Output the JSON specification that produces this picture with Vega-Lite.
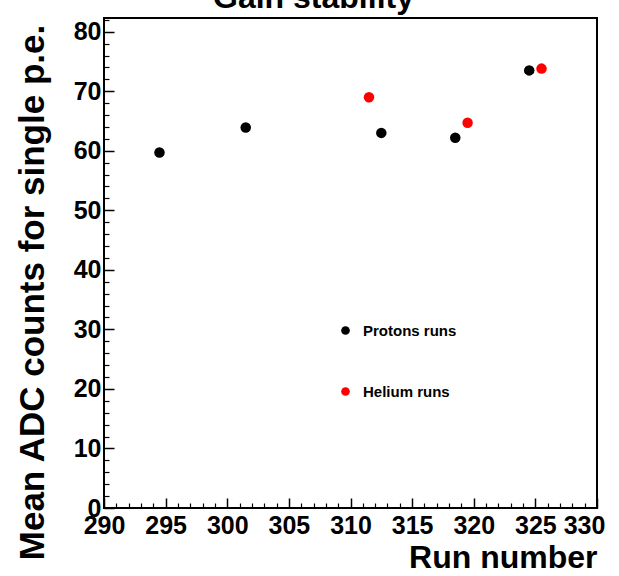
{
  "$schema": "https://vega.github.io/schema/vega-lite/v6.json",
  "autosize": "none",
  "width": 493,
  "height": 490,
  "padding": {"left": 104, "top": 18, "right": 22, "bottom": 68},
  "background": "white",
  "title": {"text": "Gain stability", "fontSize": 32, "fontWeight": "bold", "font": "Liberation Sans", "color": "black", "baseline": "alphabetic", "offset": 4, "dy": 26, "dx": -37, "anchor": "middle"},
  "config": {
    "view": {"stroke": "black", "strokeWidth": 2},
    "font": "Liberation Sans"
  },
  "data": {"values": [
    {"run": 294.5, "adc": 59.7, "type": "Protons runs"},
    {"run": 301.5, "adc": 63.9, "type": "Protons runs"},
    {"run": 312.5, "adc": 63.0, "type": "Protons runs"},
    {"run": 318.5, "adc": 62.2, "type": "Protons runs"},
    {"run": 324.5, "adc": 73.5, "type": "Protons runs"},
    {"run": 311.5, "adc": 69.0, "type": "Helium runs"},
    {"run": 319.5, "adc": 64.7, "type": "Helium runs"},
    {"run": 325.5, "adc": 73.8, "type": "Helium runs"}
  ]},
  "resolve": {"axis": {"x": "independent", "y": "independent"}},
  "layer": [
    {
      "mark": {"type": "point", "filled": true, "opacity": 1, "size": 110},
      "encoding": {
        "x": {"field": "run", "type": "quantitative", "scale": {"domain": [290, 330], "nice": false, "zero": false},
          "axis": {"orient": "bottom", "values": [290, 295, 300, 305, 310, 315, 320, 325, 330], "tickSize": -10, "tickColor": "black", "tickWidth": 1.5, "labelPadding": 15, "domain": false, "grid": false,
            "labelOverlap": false, "labelFlush": false, "labelBound": false,
            "labelOffset": {"condition": {"test": "datum.value == 330", "value": -13}, "value": 0},
            "labelFontSize": 25, "labelFontWeight": "bold", "labelColor": "black", "labelFont": "Liberation Sans",
            "title": "Run number", "titleFontSize": 32, "titleFontWeight": "bold", "titleColor": "black", "titleFont": "Liberation Sans",
            "titleAnchor": "end", "titleAlign": "right", "titleX": 493, "titleY": 59, "titleBaseline": "alphabetic"}},
        "y": {"field": "adc", "type": "quantitative", "scale": {"domain": [0, 82.3], "nice": false},
          "axis": {"orient": "left", "values": [0, 10, 20, 30, 40, 50, 60, 70, 80], "tickSize": -10, "tickColor": "black", "tickWidth": 1.5, "labelPadding": 13, "domain": false, "grid": false,
            "labelOverlap": false, "labelFlush": false, "labelBound": false,
            "labelFontSize": 25, "labelFontWeight": "bold", "labelColor": "black", "labelFont": "Liberation Sans",
            "title": "Mean ADC counts for single p.e.", "titleFontSize": 35, "titleFontWeight": "bold", "titleColor": "black", "titleFont": "Liberation Sans",
            "titleAngle": 270, "titleX": -72, "titleY": 274, "titleAlign": "center", "titleBaseline": "middle"}},
        "color": {"field": "type", "type": "nominal", "scale": {"domain": ["Protons runs", "Helium runs"], "range": ["black", "#ff0000"]},
          "legend": {"orient": "none", "legendX": 234, "legendY": 305, "title": null, "symbolType": "circle", "symbolSize": 75, "symbolOpacity": 1,
            "labelFontSize": 15, "labelFontWeight": "bold", "labelColor": "black", "labelFont": "Liberation Sans", "rowPadding": 45, "labelOffset": 10}}
      }
    },
    {
      "mark": {"type": "point", "opacity": 0},
      "encoding": {
        "x": {"field": "run", "type": "quantitative", "scale": {"domain": [290, 330], "nice": false, "zero": false},
          "axis": {"orient": "bottom", "values": [291,292,293,294,296,297,298,299,301,302,303,304,306,307,308,309,311,312,313,314,316,317,318,319,321,322,323,324,326,327,328,329], "tickSize": -5, "tickColor": "black", "tickWidth": 1.2, "labels": false, "domain": false, "grid": false, "title": null}},
        "y": {"field": "adc", "type": "quantitative", "scale": {"domain": [0, 82.3], "nice": false},
          "axis": {"orient": "left", "values": [2,4,6,8,12,14,16,18,22,24,26,28,32,34,36,38,42,44,46,48,52,54,56,58,62,64,66,68,72,74,76,78,82], "tickSize": -5, "tickColor": "black", "tickWidth": 1.2, "labels": false, "domain": false, "grid": false, "title": null}}
      }
    }
  ]
}
